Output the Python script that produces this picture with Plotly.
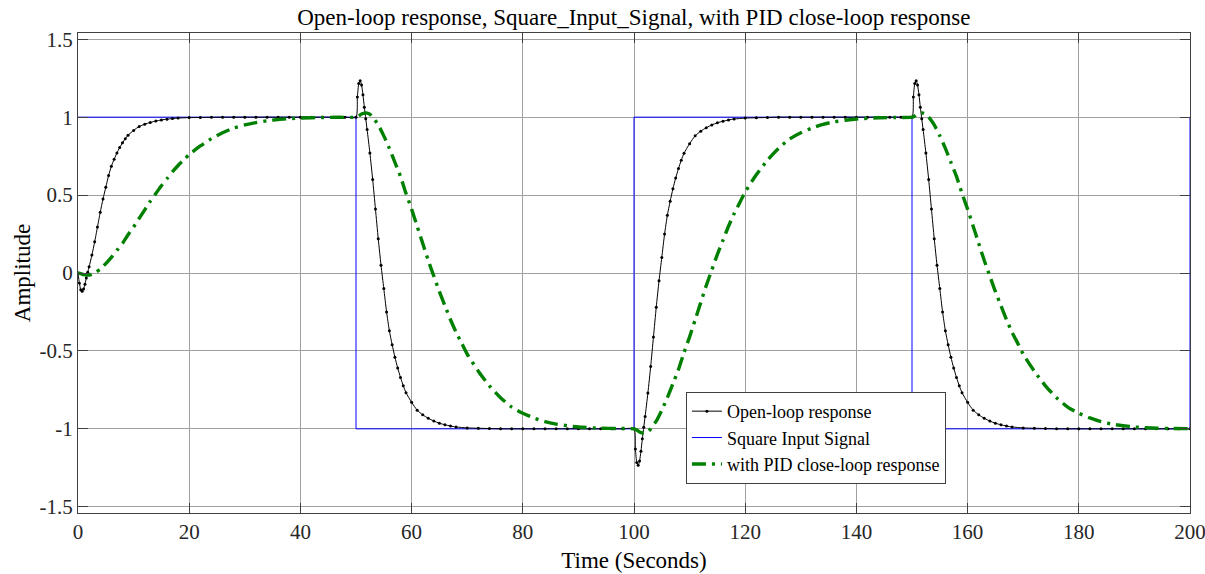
import plotly.graph_objects as go

# ---- square input signal (corner points) ----
square_t = [0, 50, 50, 100, 100, 150, 150, 200, 200]
square_y = [1, 1, -1, -1, 1, 1, -1, -1, 1]

# ---- open-loop response: sample times within each 50 s half-period ----
open_rel = [0, 0.25, 0.5, 0.75, 1, 1.25, 1.5, 1.75, 2, 2.5, 3, 3.5, 4, 4.5, 5, 5.5,
            6, 6.5, 7, 7.5, 8, 8.5, 9, 10, 11, 12, 13, 14, 15, 16, 17, 18,
            20, 22, 24, 26, 28, 30, 32, 34, 36, 38, 40, 42, 44, 46, 48]

open_seg1 = [0, -0.065, -0.108, -0.117, -0.103, -0.072, -0.032, 0.005, 0.04, 0.115,
             0.2, 0.295, 0.39, 0.475, 0.55, 0.625, 0.685, 0.73, 0.77, 0.805, 0.835,
             0.862, 0.884, 0.915, 0.94, 0.955, 0.966, 0.975, 0.982, 0.987, 0.991,
             0.994, 0.997, 0.998, 0.999, 1, 1, 1, 1, 1, 1, 1, 1, 1, 1, 1, 1]
open_seg2 = [1, 1.13, 1.216, 1.234, 1.206, 1.144, 1.064, 0.99, 0.92, 0.77, 0.6, 0.41,
             0.22, 0.05, -0.1, -0.25, -0.37, -0.46, -0.54, -0.61, -0.67, -0.724,
             -0.768, -0.83, -0.88, -0.91, -0.932, -0.95, -0.964, -0.974, -0.982,
             -0.988, -0.994, -0.996, -0.998, -1, -1, -1, -1, -1, -1, -1, -1, -1,
             -1, -1, -1]
open_seg3 = [-1, -1.13, -1.216, -1.234, -1.206, -1.144, -1.064, -0.99, -0.92, -0.77,
             -0.6, -0.41, -0.22, -0.05, 0.1, 0.25, 0.37, 0.46, 0.54, 0.61, 0.67,
             0.724, 0.768, 0.83, 0.88, 0.91, 0.932, 0.95, 0.964, 0.974, 0.982,
             0.988, 0.994, 0.996, 0.998, 1, 1, 1, 1, 1, 1, 1, 1, 1, 1, 1, 1]
open_seg4 = [1, 1.13, 1.216, 1.234, 1.206, 1.144, 1.064, 0.99, 0.92, 0.77, 0.6, 0.41,
             0.22, 0.05, -0.1, -0.25, -0.37, -0.46, -0.54, -0.61, -0.67, -0.724,
             -0.768, -0.83, -0.88, -0.91, -0.932, -0.95, -0.964, -0.974, -0.982,
             -0.988, -0.994, -0.996, -0.998, -1, -1, -1, -1, -1, -1, -1, -1, -1,
             -1, -1, -1]
open_end = -1

# ---- PID closed-loop response ----
pid_rel = [0, 0.5, 1, 1.5, 2, 2.5, 3, 4, 5, 6, 7, 8, 9, 10, 11, 12, 13, 14, 15, 16,
           17, 18, 19, 20, 22, 24, 26, 28, 30, 32, 34, 36, 38, 40, 44, 47]

pid_seg1 = [0, -0.004, -0.01, -0.013, -0.013, -0.009, 0.0, 0.025, 0.06, 0.1, 0.145,
            0.19, 0.245, 0.295, 0.35, 0.405, 0.46, 0.51, 0.56, 0.605, 0.65, 0.69,
            0.725, 0.76, 0.815, 0.862, 0.9, 0.93, 0.95, 0.965, 0.977, 0.985, 0.99,
            0.994, 0.998, 0.999]
pid_seg2 = [1, 1.008, 1.02, 1.026, 1.026, 1.018, 1.0, 0.95, 0.88, 0.8, 0.71, 0.62,
            0.51, 0.41, 0.3, 0.19, 0.08, -0.02, -0.12, -0.21, -0.3, -0.38, -0.45,
            -0.52, -0.63, -0.724, -0.8, -0.86, -0.9, -0.93, -0.954, -0.97, -0.98,
            -0.988, -0.996, -0.998]
pid_seg3 = [-1, -1.008, -1.02, -1.026, -1.026, -1.018, -1.0, -0.95, -0.88, -0.8,
            -0.71, -0.62, -0.51, -0.41, -0.3, -0.19, -0.08, 0.02, 0.12, 0.21, 0.3,
            0.38, 0.45, 0.52, 0.63, 0.724, 0.8, 0.86, 0.9, 0.93, 0.954, 0.97, 0.98,
            0.988, 0.996, 0.998]
pid_seg4 = [1, 1.008, 1.02, 1.026, 1.026, 1.018, 1.0, 0.95, 0.88, 0.8, 0.71, 0.62,
            0.51, 0.41, 0.3, 0.19, 0.08, -0.02, -0.12, -0.21, -0.3, -0.38, -0.45,
            -0.52, -0.63, -0.724, -0.8, -0.86, -0.9, -0.93, -0.954, -0.97, -0.98,
            -0.988, -0.996, -0.998]
pid_end = -0.999

half_period_starts = [0, 50, 100, 150]

x_ticks = [0, 20, 40, 60, 80, 100, 120, 140, 160, 180, 200]
y_ticks = [-1.5, -1, -0.5, 0, 0.5, 1, 1.5]
y_tick_text = ["-1.5", "-1", "-0.5", "0", "0.5", "1", "1.5"]

# assemble time / value sequences
open_t = [s + r for s in half_period_starts for r in open_rel] + [200]
open_y = open_seg1 + open_seg2 + open_seg3 + open_seg4 + [open_end]
pid_t = [s + r for s in half_period_starts for r in pid_rel] + [200]
pid_y = pid_seg1 + pid_seg2 + pid_seg3 + pid_seg4 + [pid_end]

FONT = "Liberation Serif"

fig = go.Figure()

fig.add_trace(go.Scatter(
    x=square_t, y=square_y, mode="lines", name="Square Input Signal",
    line=dict(color="#0000ff", width=1), legendrank=2,
))
fig.add_trace(go.Scatter(
    x=open_t, y=open_y, mode="lines+markers", name="Open-loop response",
    line=dict(color="black", width=1, shape="spline", smoothing=0.6),
    marker=dict(color="black", size=3), legendrank=1,
))
fig.add_trace(go.Scatter(
    x=pid_t, y=pid_y, mode="lines", name="with PID close-loop response",
    line=dict(color="#008000", width=3.4, dash="14px,6px,3px,6px",
              shape="spline", smoothing=0.6),
    legendrank=3,
))

axis_common = dict(
    showline=True, linecolor="#404040", linewidth=1, mirror="ticks",
    ticks="inside", ticklen=10, tickcolor="#404040", tickwidth=1,
    showgrid=True, gridcolor="#a0a0a0", gridwidth=1, zeroline=False,
    tickfont=dict(family=FONT, size=21, color="#262626"),
    ticklabeloverflow="allow", automargin=False,
)

fig.update_xaxes(
    range=[0, 200], tickvals=x_ticks, ticktext=[str(v) for v in x_ticks],
    title=dict(text="Time (Seconds)", font=dict(family=FONT, size=23, color="black"),
               standoff=8),
    **axis_common,
)
fig.update_yaxes(
    range=[-1.54, 1.54], tickvals=y_ticks, ticktext=y_tick_text,
    title=dict(text="Amplitude", font=dict(family=FONT, size=23, color="black"),
               standoff=2),
    **axis_common,
)

fig.update_layout(
    width=1205, height=574,
    margin=dict(l=78, r=15, t=33, b=61),
    paper_bgcolor="white", plot_bgcolor="white",
    title=dict(text="Open-loop response, Square_Input_Signal, with PID close-loop response",
               font=dict(family=FONT, size=23, color="black"),
               x=0.526, xanchor="center", y=0.97, yanchor="middle"),
    showlegend=True,
    legend=dict(x=0.5467, y=0.2522, xanchor="left", yanchor="top",
                bgcolor="white", bordercolor="#404040", borderwidth=1,
                font=dict(family=FONT, size=18, color="black"),
                tracegroupgap=0, itemwidth=30),
)

fig.write_html("out.html")
